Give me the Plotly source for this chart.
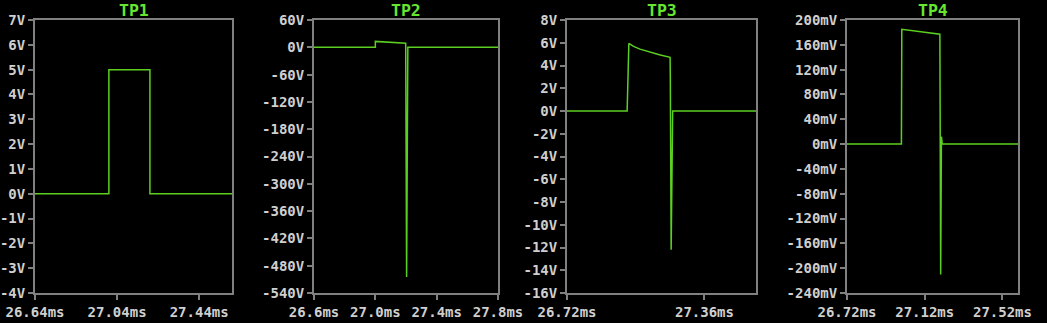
import plotly.graph_objects as go

W, H = 1047, 323

# ---- data (time in ms, values in V or mV) ----
tp1_t = [26.64, 27.0, 27.0, 27.2, 27.2, 27.6]
tp1_v = [0, 0, 5, 5, 0, 0]

tp2_t = [26.6, 27.0, 27.0, 27.05, 27.1, 27.15, 27.198, 27.204, 27.212, 27.8]
tp2_v = [0, 0, 13, 12, 11, 10, 9, -505, 0, 0]

tp3_t = [26.72, 27.0, 27.008, 27.03, 27.06, 27.1, 27.15, 27.2, 27.201, 27.205, 27.212, 27.6]
tp3_v = [0, 0, 5.94, 5.68, 5.44, 5.2, 4.95, 4.72, 3.0, -12.2, 0, 0]

tp4_t = [26.72, 27.0, 27.002, 27.05, 27.1, 27.15, 27.198, 27.202, 27.206, 27.21, 27.6]
tp4_v = [0, 0, 185, 183, 181, 179, 177, -210, 12, 0, 0]

titles = ["TP1", "TP2", "TP3", "TP4"]

x_ranges = [[26.64, 27.6], [26.6, 27.8], [26.72, 27.6], [26.72, 27.6]]
x_tickvals = [[26.64, 27.04, 27.44], [26.6, 27.0, 27.4, 27.8], [26.72, 27.36], [26.72, 27.12, 27.52]]
x_ticktext = [["26.64ms", "27.04ms", "27.44ms"],
              ["26.6ms", "27.0ms", "27.4ms", "27.8ms"],
              ["26.72ms", "27.36ms"],
              ["26.72ms", "27.12ms", "27.52ms"]]

y_ranges = [[-4, 7], [-540, 60], [-16, 8], [-240, 200]]
y_tickvals = [list(range(-4, 8, 1)), list(range(-540, 61, 60)), list(range(-16, 9, 2)), list(range(-240, 201, 40))]
y_units = ["V", "V", "V", "mV"]

series = [(tp1_t, tp1_v), (tp2_t, tp2_v), (tp3_t, tp3_v), (tp4_t, tp4_v)]

# ---- layout geometry (pixels) ----
px_x = [(35, 232), (314, 498), (567, 756), (847, 1018)]
px_top, px_bot = 20, 293

LINE = "#5ccf22"
TITLE = "#66e62e"
AXIS = "#808080"
TICKC = "#cfcfcf"
FONT = "DejaVu Sans Mono"

fig = go.Figure()
layout = dict(
    width=W, height=H,
    margin=dict(l=0, r=0, t=0, b=0, autoexpand=False),
    paper_bgcolor="black", plot_bgcolor="black",
    showlegend=False,
    annotations=[],
)

for i, ((t, v), title) in enumerate(zip(series, titles)):
    n = "" if i == 0 else str(i + 1)
    xa, ya = "x" + n, "y" + n
    fig.add_trace(go.Scatter(x=t, y=v, mode="lines", xaxis=xa, yaxis=ya,
                             line=dict(color=LINE, width=1.5), hoverinfo="skip"))
    x0, x1 = px_x[i]
    common = dict(showgrid=False, zeroline=False, showline=True, linecolor=AXIS,
                  linewidth=2, mirror=True, ticks="outside", ticklen=5, tickwidth=1.5,
                  tickcolor=AXIS, automargin=False,
                  tickfont=dict(family=FONT, size=14, color=TICKC, weight="bold"))
    layout["xaxis" + n] = dict(domain=[x0 / W, x1 / W], range=x_ranges[i], anchor=ya,
                               tickvals=x_tickvals[i], ticktext=x_ticktext[i], **common)
    ytext = [f"{val}{y_units[i]}" for val in y_tickvals[i]]
    layout["yaxis" + n] = dict(domain=[(H - px_bot) / H, (H - px_top) / H], range=y_ranges[i],
                               anchor=xa, tickvals=y_tickvals[i], ticktext=ytext, ticklabelstandoff=0,
                               **common)
    layout["annotations"].append(dict(text="<b>" + title + "</b>", xref="paper", yref="paper",
                                      x=(x0 + x1) / 2 / W, y=1 - 10 / H, xanchor="center",
                                      yanchor="middle", showarrow=False,
                                      font=dict(family=FONT, size=16.5, color=TITLE)))

fig.update_layout(**layout)
fig.write_html("out.html")
